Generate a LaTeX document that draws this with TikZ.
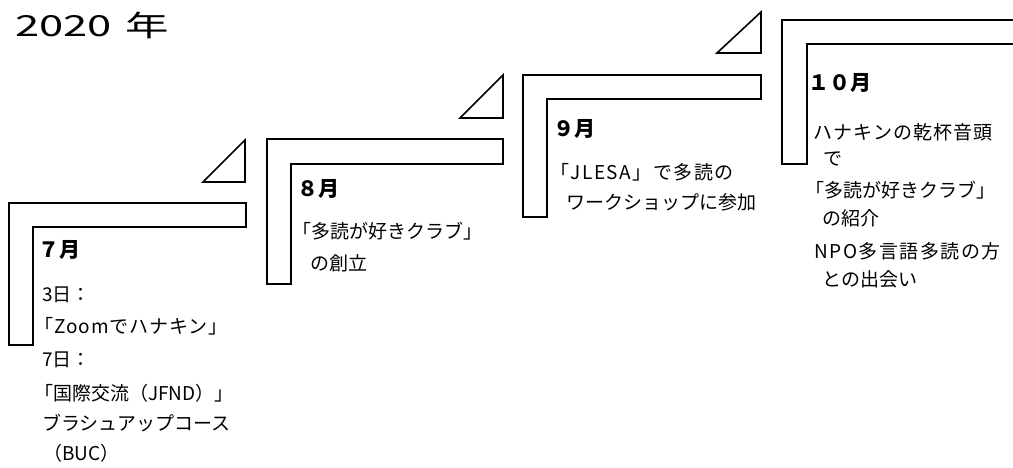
\documentclass[tikz,border=0pt]{standalone}
\usepackage{fontspec}
\setmainfont{Noto Sans CJK JP}
\newcommand\bodyfont{\fontsize{19}{22}\selectfont}
\newcommand\monthfont{\fontsize{21}{24}\selectfont\bfseries}
\tikzset{
  lshape/.style={draw=black, line width=1.6pt, fill=white, line join=miter},
  tri/.style={draw=black, line width=1.6pt, fill=white, line join=miter},
  body/.style={anchor=base west, inner sep=0pt, font=\bodyfont},
  month/.style={anchor=base west, inner sep=0pt, font=\monthfont},
}
\begin{document}
\begin{tikzpicture}[x=1pt, y=-1pt]
\clip (0,0) rectangle (1013,467);
\fill[white] (0,0) rectangle (1013,467);
% title
\node[anchor=base west, inner sep=0pt] (title) at (15,36)
  {\scalebox{1.5}[1]{\fontsize{29}{32}\selectfont 2020\hspace{9pt}年}};
% L shapes
\draw[lshape] (9,203) -- (246,203) -- (246,227) -- (33,227) -- (33,345) -- (9,345) -- cycle;
\draw[lshape] (267,139) -- (503,139) -- (503,164) -- (291,164) -- (291,284) -- (267,284) -- cycle;
\draw[lshape] (523,75) -- (761,75) -- (761,99) -- (547,99) -- (547,217) -- (523,217) -- cycle;
\draw[lshape] (782,20) -- (1030,20) -- (1030,44) -- (807,44) -- (807,164) -- (782,164) -- cycle;
% triangles
\draw[tri] (203,182) -- (245,140) -- (245,182) -- cycle;
\draw[tri] (460,118) -- (503,75) -- (503,118) -- cycle;
\draw[tri] (717,53) -- (761,12) -- (761,53) -- cycle;
% July
\node[month] (m7) at (38,257) {７月};
\node[body] (j1) at (42,301) {3日：};
\node[body] (j2) at (34,333) {\addfontfeatures{LetterSpace=5}「Zoomでハナキン」};
\node[body] (j3) at (42,366) {7日：};
\node[body] (j4) at (34,400) {「国際交流（JFND）」};
\node[body] (j5) at (42,430) {ブラシュアップコース};
\node[body] (j6) at (43,460) {（BUC）};
% August
\node[month] (m8) at (297,196) {８月};
\node[body] (a1) at (292,238) {「多読が好きクラブ」};
\node[body] (a2) at (310,270) {の創立};
% September
\node[month] (m9) at (553,136) {９月};
\node[body] (s1) at (550,179) {\addfontfeatures{LetterSpace=8}「JLESA」で多読の};
\node[body] (s2) at (566,209) {ワークショップに参加};
% October
\node[month] (m10) at (808,90) {１０月};
\node[body] (o1) at (813,139) {\addfontfeatures{LetterSpace=6}ハナキンの乾杯音頭};
\node[body] (o2) at (823,165) {で};
\node[body] (o3) at (805,197) {「多読が好きクラブ」};
\node[body] (o4) at (822,225) {の紹介};
\node[body] (o5) at (814,258) {\addfontfeatures{LetterSpace=8}NPO多言語多読の方};
\node[body] (o6) at (822,286) {との出会い};
\end{tikzpicture}
\end{document}
